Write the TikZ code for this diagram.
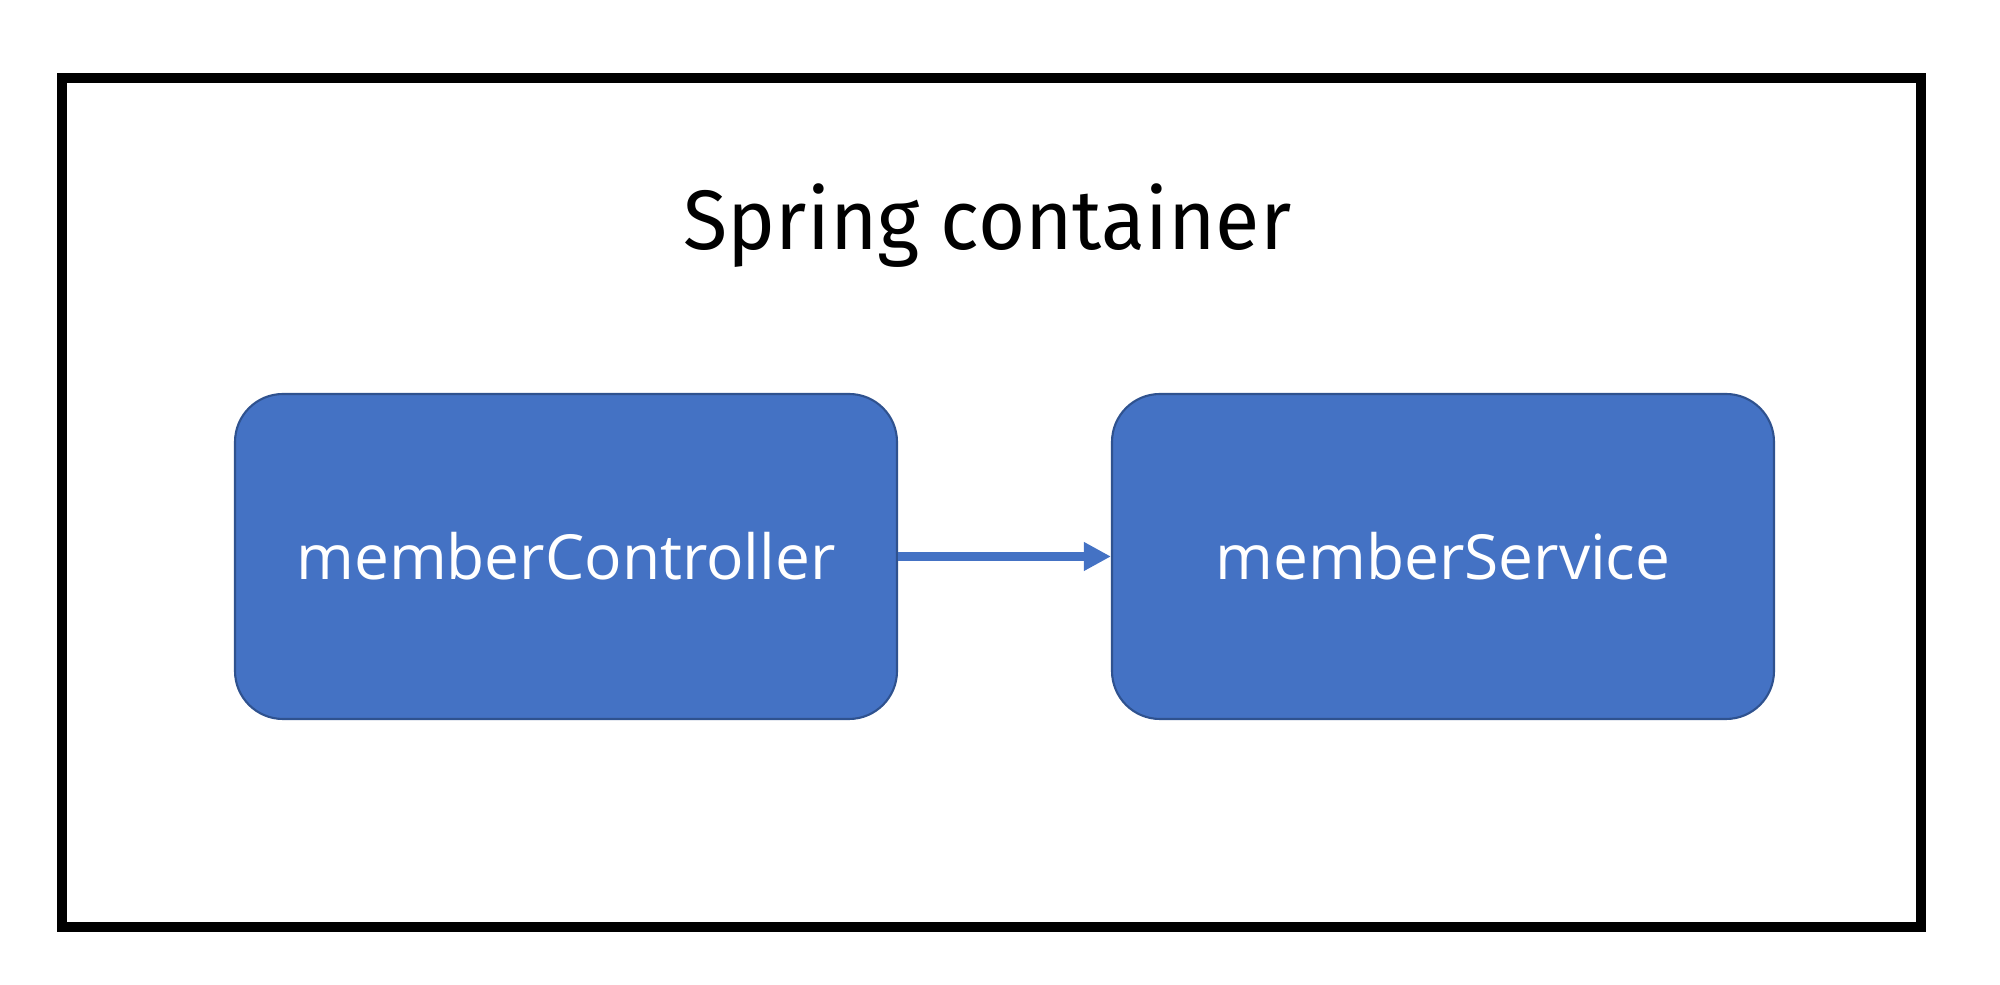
\documentclass[tikz,border=0pt]{standalone}
\usepackage{fontspec}
\setmainfont{Open Sans}
\newfontfamily\titlefont[FakeStretch=0.96]{Fira Sans}
\usepackage{xcolor}
\usetikzlibrary{arrows.meta}

\definecolor{beanblue}{HTML}{4472C4}
\definecolor{beanedge}{HTML}{2F528F}

\tikzset{
    bean/.style={draw=beanedge, line width=0.6pt, fill=beanblue, rounded corners=0.48cm,
        minimum width=6.62cm, minimum height=3.25cm, text=white,
        font=\fontsize{17.7}{21}\selectfont},
    inject/.style={draw=beanblue, line width=2.6pt,
        -{Triangle[length=0.27cm,width=0.27cm]}}
}

\begin{document}
\begin{tikzpicture}
    \useasboundingbox (0,0) rectangle (20,9.85);

    % Container frame
    \draw[line width=3.1pt] (0.62,0.58) rectangle (19.21,9.07);
    % Container title
    \node[anchor=base, font=\titlefont\fontsize{24}{28}\selectfont] (title) at (9.875,7.35) {Spring container};

    % Beans inside the container
    \node[bean] (controller) at (5.66,4.285) {memberController};
    \node[bean] (service) at (14.43,4.285) {memberService};

    % Dependency
    \draw[inject] (controller.east) -- (service.west);
\end{tikzpicture}
\end{document}
